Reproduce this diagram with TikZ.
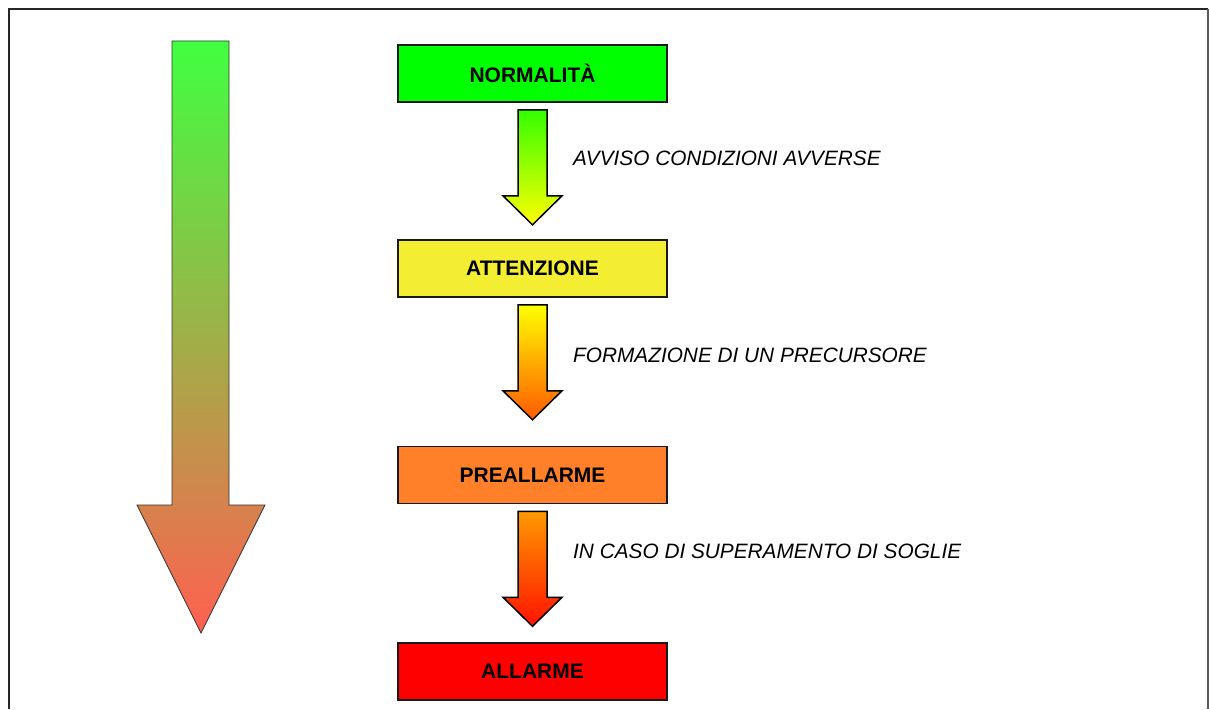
\documentclass[tikz,border=0pt]{standalone}
\usepackage{fontspec}
\setmainfont{Liberation Sans}
\usetikzlibrary{calc}

\definecolor{normgreen}{HTML}{00FF00}
\definecolor{attyellow}{HTML}{F4EE33}
\definecolor{preorange}{HTML}{FF8028}
\definecolor{allred}{HTML}{FF0000}
\definecolor{bigtop}{RGB}{64,255,64}
\definecolor{bigmid}{RGB}{196,216,64}
\definecolor{bigbot}{RGB}{255,96,80}

\tikzset{
  levelbox/.style={draw=black!90,line width=1.6pt,minimum width=269pt,
    minimum height=57pt,inner sep=0pt,font=\fontsize{21}{24}\selectfont\bfseries},
  steplabel/.style={anchor=west,inner sep=0pt,font=\fontsize{20.8}{24}\selectfont\itshape}
}

% block arrow hanging below a box
\newcommand{\blockarrow}[3]{%
  \shade[draw=black,line width=1.5pt,top color=#2,bottom color=#3]
    ($(#1.south)+(-14.5,7)$) -- ($(#1.south)+(14.5,7)$) --
    ($(#1.south)+(14.5,93)$) -- ($(#1.south)+(29.5,93)$) --
    ($(#1.south)+(0,122)$) -- ($(#1.south)+(-29.5,93)$) --
    ($(#1.south)+(-14.5,93)$) -- cycle;}

\begin{document}
\begin{tikzpicture}[x=1pt,y=-1pt]
  \useasboundingbox (0,0) rectangle (1209,709);
  \draw [line width=1.6pt,black!85] (9,709) -- (9,9) -- (1208,9);
  \draw [line width=1.4pt,black!65] (1208,9) -- (1208,709);

  % big arrow on the left
  \shade [draw=black!80,line width=0.8pt,top color=bigtop,
    middle color=bigmid,bottom color=bigbot]
    (172,41) -- (229,41) -- (229,505) -- (265,505) -- (201,633)
    -- (137,505) -- (172,505) -- cycle;

  % levels
  \node [levelbox,fill=normgreen] (norm) at (532.5,73.5) {NORMALITÀ};
  \node [levelbox,fill=attyellow] (att) at (532.5,268.5) {ATTENZIONE};
  \node [levelbox,fill=preorange] (pre) at (532.5,475) {PREALLARME};
  \node [levelbox,fill=allred] (all) at (532.5,671.5) {ALLARME};

  \blockarrow{norm}{green!80!yellow}{yellow}
  \blockarrow{att}{yellow}{orange!70!red}
  \blockarrow{pre}{orange!80!yellow}{red!85!orange}

  \node [steplabel] (lbla) at (573,158) {AVVISO CONDIZIONI AVVERSE};
  \node [steplabel] (lblb) at (573,355) {FORMAZIONE DI UN PRECURSORE};
  \node [steplabel] (lblc) at (573,551) {IN CASO DI SUPERAMENTO DI SOGLIE};
\end{tikzpicture}
\end{document}
